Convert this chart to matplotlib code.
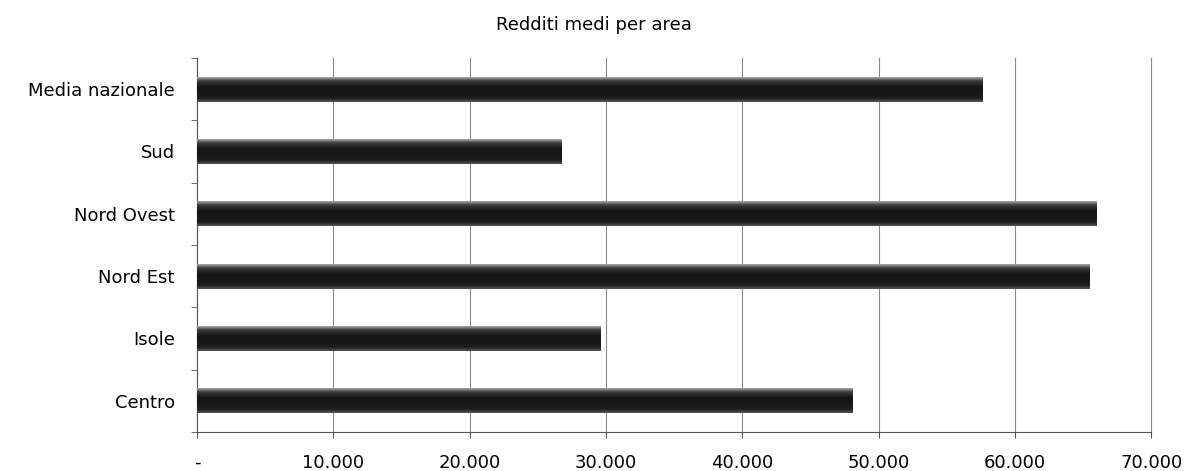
import numpy as np
import matplotlib.pyplot as plt
from matplotlib.colors import LinearSegmentedColormap

# Redditi medi per area (euro)
areas = ["Centro", "Isole", "Nord Est", "Nord Ovest", "Sud", "Media nazionale"]
redditi = [48100, 29600, 65500, 65950, 26700, 57600]
xticks = [0, 10000, 20000, 30000, 40000, 50000, 60000, 70000]
xticklabels = ["-", "10.000", "20.000", "30.000", "40.000", "50.000", "60.000", "70.000"]

plt.rcParams['font.family'] = ['DejaVu Sans']

fig = plt.figure(figsize=(11.87, 4.71), dpi=100)
ax = fig.add_axes([0.166, 0.083, 0.804, 0.794])

bar_h = 0.4
ypos = np.arange(len(areas))
bars = ax.barh(ypos, redditi, height=bar_h, color="none", edgecolor="none")

# vertical shading on each bar: light top edge, dark body, slightly lighter bottom
cmap = LinearSegmentedColormap.from_list(
    "bar", [(0.0, "#555555"), (0.15, "#1c1c1c"), (0.6, "#141414"),
            (0.85, "#3a3a3a"), (1.0, "#a8a8a8")])
grad = np.linspace(0, 1, 64).reshape(-1, 1)
for b in bars:
    x0, y0 = b.get_x(), b.get_y()
    w, h = b.get_width(), b.get_height()
    ax.imshow(grad, cmap=cmap, aspect="auto", origin="lower",
              extent=[x0, x0 + w, y0, y0 + h], zorder=3, interpolation="bicubic")

ax.set_xlim(0, 70000)
ax.set_ylim(-0.5, len(areas) - 0.5)
ax.set_xticks(xticks)
ax.set_xticklabels(xticklabels, fontsize=13)
ax.set_yticks(ypos)
ax.set_yticklabels(areas, fontsize=13)
ax.tick_params(axis="y", length=0, pad=16)
ax.set_yticks(np.arange(-0.5, len(areas), 1), minor=True)
ax.tick_params(axis="y", which="minor", length=4, color="#555555", direction="out")
ax.tick_params(axis="x", length=4, color="#555555", pad=12)

ax.grid(axis="x", color="#888888", linewidth=0.8, zorder=0)
for gl in ax.get_xgridlines():
    gl.set_clip_on(False)
ax.set_axisbelow(True)
for s in ["top", "right"]:
    ax.spines[s].set_visible(False)
for s in ["left", "bottom"]:
    ax.spines[s].set_color("#555555")
    ax.spines[s].set_linewidth(0.8)

fig.text(0.5, 0.947, "Redditi medi per area", ha="center", va="center", fontsize=13)

fig.savefig("out.png", dpi=100)
